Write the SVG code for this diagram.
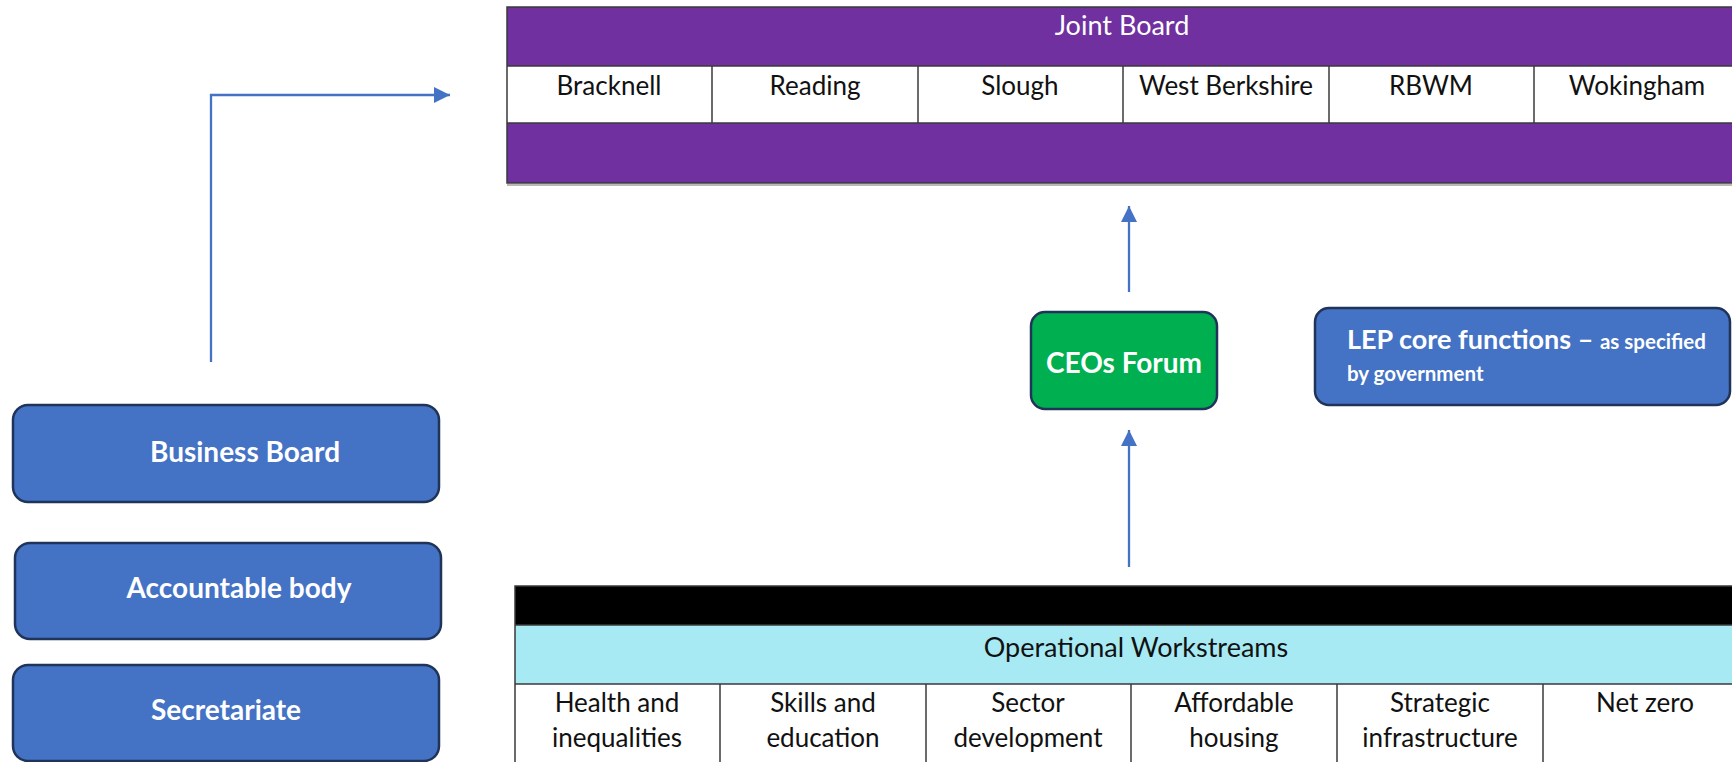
<svg xmlns="http://www.w3.org/2000/svg" width="1732" height="762" viewBox="0 0 1732 762">
<style>
  .t { font-family: Lato, "Noto Sans", "Liberation Sans", sans-serif; }
  .cell { font-family: Lato, "Noto Sans", "Liberation Sans", sans-serif; font-size: 26px; fill: #111; text-anchor: middle; }
  .hdr { font-family: Lato, "Noto Sans", "Liberation Sans", sans-serif; font-size: 27px; text-anchor: middle; }
  .box { fill: #4472C4; stroke: #1F3458; stroke-width: 2.5; }
  .btxt { font-family: Lato, "Noto Sans", "Liberation Sans", sans-serif; font-size: 28px; font-weight: bold; fill: #fff; text-anchor: middle; }
  .grid { stroke: #3a3a3a; stroke-width: 1.5; fill: none; }
  .conn { stroke: #4472C4; stroke-width: 2.3; fill: none; }
</style>
<defs>
  <marker id="ah" markerWidth="16" markerHeight="16" refX="16" refY="8" orient="auto" markerUnits="userSpaceOnUse" viewBox="0 0 16 16">
    <path d="M0,0 L16,8 L0,16 z" fill="#4472C4"/>
  </marker>
</defs>
<rect width="1732" height="762" fill="#fff"/>

<g id="joint-board">
  <rect x="507" y="7" width="1240" height="59" fill="#7030A0"/>
  <rect x="507" y="66" width="1240" height="57" fill="#fff"/>
  <rect x="507" y="123" width="1240" height="60" fill="#7030A0"/>
  <line x1="507" y1="185" x2="1732" y2="185" stroke="#b8b8b8" stroke-width="2"/>
  <rect x="507" y="7" width="1240" height="176" class="grid"/>
  <line x1="507" y1="66" x2="1747" y2="66" class="grid"/>
  <line x1="507" y1="123" x2="1747" y2="123" class="grid"/>
  <line x1="712" y1="66" x2="712" y2="123" class="grid"/>
  <line x1="918" y1="66" x2="918" y2="123" class="grid"/>
  <line x1="1123" y1="66" x2="1123" y2="123" class="grid"/>
  <line x1="1329" y1="66" x2="1329" y2="123" class="grid"/>
  <line x1="1534" y1="66" x2="1534" y2="123" class="grid"/>
  <text x="1122" y="35" class="hdr" fill="#fff">Joint Board</text>
  <text x="609" y="95" class="cell">Bracknell</text>
  <text x="815" y="95" class="cell">Reading</text>
  <text x="1020" y="95" class="cell">Slough</text>
  <text x="1226" y="95" class="cell">West Berkshire</text>
  <text x="1431" y="95" class="cell">RBWM</text>
  <text x="1637" y="95" class="cell">Wokingham</text>
</g>

<g id="ceos-forum">
  <rect x="1031" y="312" width="186" height="97" rx="14" fill="#00B050" stroke="#1F3458" stroke-width="2.5"/>
  <text x="1124" y="373" class="btxt">CEOs Forum</text>
</g>

<g id="lep-core">
  <rect x="1315" y="308" width="415" height="97" rx="14" class="box"/>
  <text x="1347" y="349" class="t" fill="#fff" font-weight="bold"><tspan font-size="27">LEP core functions – </tspan><tspan font-size="20.5">as specified</tspan></text>
  <text x="1347" y="381" class="t" fill="#fff" font-weight="bold" font-size="20.5">by government</text>
</g>

<g id="business-board">
  <rect x="13" y="405" width="426" height="97" rx="15" class="box"/>
  <text x="245" y="462" class="btxt">Business Board</text>
</g>

<g id="accountable-body">
  <rect x="15" y="543" width="426" height="96" rx="15" class="box"/>
  <text x="239" y="598" class="btxt">Accountable body</text>
</g>

<g id="secretariate">
  <rect x="13" y="665" width="426" height="96" rx="15" class="box"/>
  <text x="226" y="720" class="btxt">Secretariate</text>
</g>

<g id="workstreams">
  <rect x="515" y="586" width="1240" height="39" fill="#000"/>
  <rect x="515" y="625" width="1240" height="59" fill="#A7EAF3"/>
  <rect x="515" y="684" width="1240" height="80" fill="#fff"/>
  <rect x="515" y="586" width="1240" height="180" class="grid"/>
  <line x1="515" y1="625" x2="1755" y2="625" class="grid"/>
  <line x1="515" y1="684" x2="1755" y2="684" class="grid"/>
  <line x1="720" y1="684" x2="720" y2="762" class="grid"/>
  <line x1="926" y1="684" x2="926" y2="762" class="grid"/>
  <line x1="1131" y1="684" x2="1131" y2="762" class="grid"/>
  <line x1="1337" y1="684" x2="1337" y2="762" class="grid"/>
  <line x1="1543" y1="684" x2="1543" y2="762" class="grid"/>
  <text x="1136" y="657" class="hdr" fill="#111">Operational Workstreams</text>
  <text x="617" y="712" class="cell">Health and</text>
  <text x="617" y="747" class="cell">inequalities</text>
  <text x="823" y="712" class="cell">Skills and</text>
  <text x="823" y="747" class="cell">education</text>
  <text x="1028" y="712" class="cell">Sector</text>
  <text x="1028" y="747" class="cell">development</text>
  <text x="1234" y="712" class="cell">Affordable</text>
  <text x="1234" y="747" class="cell">housing</text>
  <text x="1440" y="712" class="cell">Strategic</text>
  <text x="1440" y="747" class="cell">infrastructure</text>
  <text x="1645" y="712" class="cell">Net zero</text>
</g>

<g id="connectors">
  <path d="M211,362 L211,95 L450,95" class="conn" marker-end="url(#ah)"/>
  <path d="M1129,292 L1129,206" class="conn" marker-end="url(#ah)"/>
  <path d="M1129,567 L1129,430" class="conn" marker-end="url(#ah)"/>
</g>
</svg>
